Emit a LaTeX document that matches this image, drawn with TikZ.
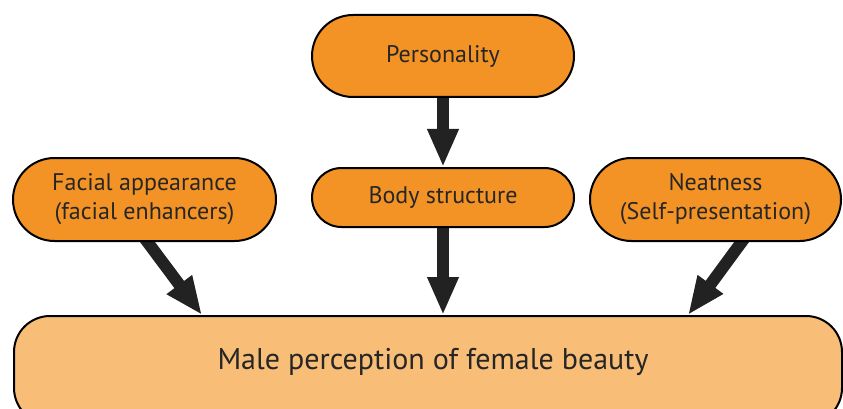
\documentclass[tikz,border=0pt]{standalone}
\usepackage{fontspec}
\setmainfont{PT Sans}
\usetikzlibrary{shapes.misc,arrows.meta,backgrounds}
\definecolor{boxor}{HTML}{F39325}
\definecolor{lightor}{HTML}{F8BE78}
\definecolor{arrowc}{HTML}{222222}
\definecolor{txt}{HTML}{262626}
\begin{document}
\begin{tikzpicture}[x=1pt,y=-1pt,
  pill/.style={rounded rectangle, draw=black, line width=2pt, fill=boxor, inner sep=0pt,
    text=txt, align=center, font=\fontsize{24}{29}\selectfont},
  bigbox/.style={rectangle, rounded corners=36pt, draw=black, line width=2pt, fill=lightor,
    inner sep=0pt, text=txt},
  arr/.style={draw=arrowc, line width=12pt, -{Triangle[length=38pt,width=29pt]}}]
\useasboundingbox (0,0) rectangle (843,409);
\node[pill, minimum width=262pt, minimum height=82pt] (pers) at (443,56) {Personality};
\node[pill, minimum width=262pt, minimum height=59pt] (body) at (443,197.5) {Body structure};
\node[pill, minimum width=263pt, minimum height=83pt] (face) at (144.5,199.5) {Facial appearance\\(facial enhancers)};
\node[pill, minimum width=251pt, minimum height=83pt] (neat) at (715.5,199.5) {Neatness\\(Self-presentation)};
\node[bigbox, minimum width=828pt, minimum height=108pt, anchor=north] (male) at (428,315) {};
\node[text=txt, font=\fontsize{30}{34}\selectfont] (maletxt) at (433,362) {Male perception of female beauty};
\coordinate (tipL) at (202,315);
\coordinate (tipR) at (688,315);
\begin{scope}[on background layer]
\draw[arr] ([yshift=6pt]pers.south) -- (body.north);
\draw[arr] ([yshift=6pt]body.south) -- (male.north -| body.south);
\draw[arr] ([xshift=-3pt,yshift=8pt]face.south) -- (tipL);
\draw[arr] ([xshift=32pt,yshift=8pt]neat.south) -- (tipR);
\end{scope}
\end{tikzpicture}
\end{document}
